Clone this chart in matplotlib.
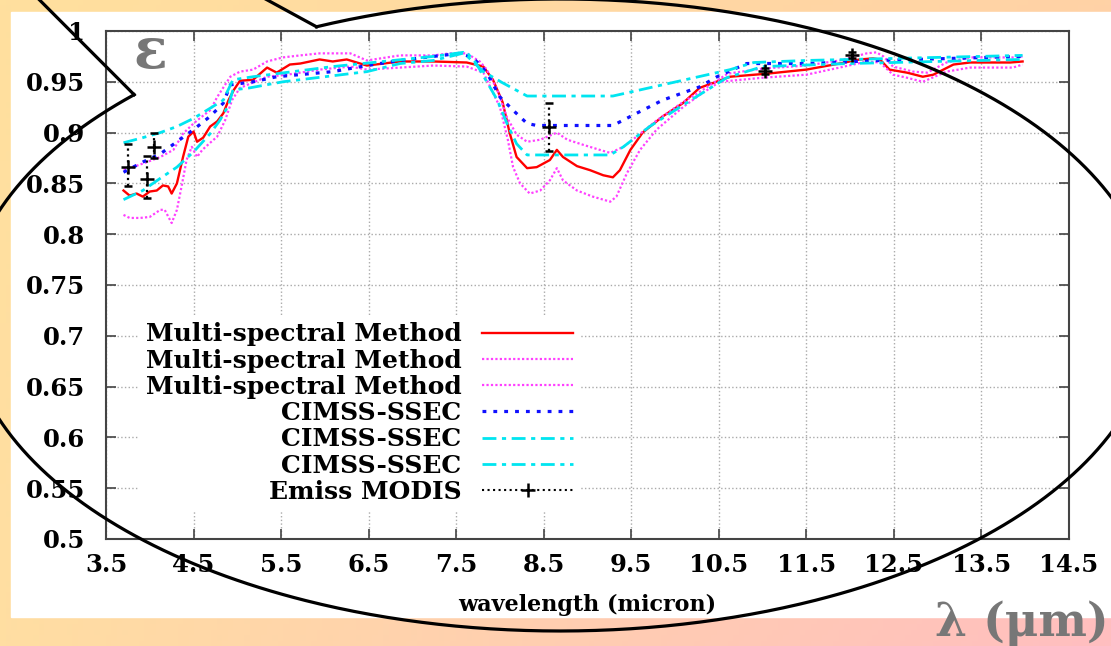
import numpy as np
import matplotlib
matplotlib.use("Agg")
import matplotlib.pyplot as plt
from matplotlib.lines import Line2D
from matplotlib.patches import Rectangle

plt.rcParams["font.family"] = ["DejaVu Serif"]
plt.rcParams["font.weight"] = "bold"
plt.rcParams["axes.labelweight"] = "bold"

# --- data ---
red_x = [3.70, 3.77, 3.85, 3.92, 4.00, 4.08, 4.15, 4.21, 4.25, 4.31, 4.38, 4.44, 4.50, 4.54, 4.61, 4.69, 4.77,
         4.84, 4.90, 4.96, 5.03, 5.18, 5.34, 5.45, 5.60, 5.72, 5.94, 6.09, 6.25, 6.48, 6.86, 7.24, 7.62, 7.81,
         7.92, 8.03, 8.11, 8.19, 8.31, 8.42, 8.57, 8.65, 8.72, 8.88, 9.03, 9.18, 9.29, 9.37, 9.49, 9.63, 9.86,
         10.09, 10.28, 10.63, 11.05, 11.50, 11.88, 12.11, 12.26, 12.34, 12.45, 12.65, 12.83, 12.95, 13.18,
         13.37, 13.83, 13.97]
red_y = [0.843, 0.838, 0.840, 0.837, 0.842, 0.843, 0.848, 0.847, 0.840, 0.850, 0.876, 0.896, 0.901, 0.891,
         0.895, 0.906, 0.911, 0.919, 0.932, 0.942, 0.951, 0.952, 0.964, 0.959, 0.967, 0.968, 0.972, 0.970,
         0.972, 0.966, 0.970, 0.970, 0.969, 0.965, 0.952, 0.930, 0.900, 0.876, 0.865, 0.866, 0.873, 0.883,
         0.876, 0.867, 0.863, 0.858, 0.856, 0.863, 0.883, 0.900, 0.916, 0.929, 0.944, 0.955, 0.958, 0.962,
         0.968, 0.972, 0.973, 0.972, 0.962, 0.959, 0.955, 0.957, 0.967, 0.969, 0.969, 0.970]

mu_x = [3.70, 3.77, 3.97, 4.12, 4.27, 4.38, 4.50, 4.57, 4.69, 4.77, 4.92, 5.03, 5.18, 5.34, 5.52, 5.72, 5.94,
        6.29, 6.48, 6.86, 7.24, 7.43, 7.62, 7.77, 7.85, 7.97, 8.08, 8.19, 8.31, 8.46, 8.65, 8.77, 8.95, 9.14,
        9.26, 9.41, 9.56, 9.79, 10.09, 10.28, 10.60, 11.00, 11.50, 11.88, 12.19, 12.30, 12.38, 12.49, 12.72,
        12.88, 13.10, 13.37, 13.86, 13.97]
mu_y = [0.864, 0.865, 0.871, 0.876, 0.883, 0.899, 0.909, 0.914, 0.922, 0.935, 0.955, 0.960, 0.962, 0.970,
        0.974, 0.976, 0.978, 0.978, 0.971, 0.976, 0.976, 0.978, 0.978, 0.970, 0.962, 0.942, 0.915, 0.898,
        0.891, 0.893, 0.900, 0.893, 0.888, 0.883, 0.880, 0.886, 0.896, 0.912, 0.930, 0.940, 0.958, 0.963,
        0.966, 0.971, 0.978, 0.979, 0.975, 0.965, 0.960, 0.959, 0.969, 0.974, 0.974, 0.975]

ml_x = [3.70, 3.77, 3.89, 4.00, 4.12, 4.17, 4.25, 4.31, 4.37, 4.42, 4.48, 4.54, 4.60, 4.69, 4.77, 4.86, 4.94,
        5.03, 5.34, 5.57, 5.94, 6.29, 6.48, 6.86, 7.24, 7.62, 7.81, 7.85, 8.00, 8.09, 8.15, 8.23, 8.34, 8.46,
        8.57, 8.65, 8.72, 8.88, 9.06, 9.26, 9.33, 9.45, 9.60, 9.79, 10.09, 10.28, 10.51, 11.00, 11.50, 11.88,
        12.19, 12.34, 12.49, 12.65, 12.83, 13.10, 13.37, 13.86, 13.97]
ml_y = [0.819, 0.816, 0.816, 0.817, 0.824, 0.824, 0.811, 0.824, 0.850, 0.873, 0.886, 0.876, 0.883, 0.890,
        0.896, 0.912, 0.932, 0.944, 0.955, 0.957, 0.962, 0.965, 0.962, 0.964, 0.966, 0.965, 0.959, 0.952,
        0.925, 0.893, 0.866, 0.850, 0.840, 0.843, 0.853, 0.865, 0.853, 0.843, 0.837, 0.832, 0.837, 0.860,
        0.883, 0.903, 0.925, 0.937, 0.950, 0.954, 0.957, 0.964, 0.970, 0.969, 0.957, 0.954, 0.950, 0.960,
        0.964, 0.964, 0.967]

b1_x = [3.70, 3.92, 4.12, 4.31, 4.50, 4.69, 4.84, 4.92, 5.18, 5.45, 6.09, 6.48, 6.86, 7.24, 7.54, 7.69, 7.85,
        8.00, 8.15, 8.31, 8.42, 9.29, 9.56, 9.86, 10.28, 10.48, 10.82, 11.50, 12.34, 13.97]
b1_y = [0.861, 0.871, 0.879, 0.891, 0.903, 0.916, 0.929, 0.947, 0.950, 0.955, 0.960, 0.966, 0.971, 0.975,
        0.978, 0.974, 0.959, 0.935, 0.922, 0.909, 0.907, 0.907, 0.919, 0.932, 0.945, 0.955, 0.968, 0.968,
        0.971, 0.975]

c1_x = [3.70, 3.92, 4.12, 4.31, 4.50, 4.69, 4.84, 4.95, 5.18, 6.09, 7.24, 7.58, 7.81, 8.03, 8.31, 9.29, 10.63,
        10.90, 11.50, 12.50, 13.97]
c1_y = [0.890, 0.895, 0.900, 0.906, 0.914, 0.924, 0.932, 0.952, 0.955, 0.965, 0.975, 0.979, 0.960, 0.949,
        0.936, 0.936, 0.962, 0.969, 0.971, 0.973, 0.976]

c2_x = [3.70, 3.92, 4.12, 4.31, 4.50, 4.69, 4.80, 4.90, 4.95, 5.14, 5.52, 6.48, 6.86, 7.24, 7.62, 7.73, 7.97,
        8.08, 8.19, 8.31, 9.26, 9.41, 9.71, 10.09, 10.59, 11.00, 12.00, 13.97]
c2_y = [0.834, 0.843, 0.855, 0.866, 0.881, 0.899, 0.912, 0.927, 0.942, 0.944, 0.950, 0.960, 0.968, 0.971,
        0.979, 0.968, 0.932, 0.909, 0.889, 0.878, 0.878, 0.886, 0.906, 0.927, 0.954, 0.965, 0.968, 0.972]

modis_x = [3.75, 3.97, 4.05, 8.56, 11.03, 12.02]
modis_y = [0.866, 0.854, 0.886, 0.906, 0.961, 0.976]
modis_lo = [0.847, 0.836, 0.875, 0.882, 0.958, 0.973]
modis_hi = [0.889, 0.877, 0.900, 0.929, 0.964, 0.979]

labels = ["Multi-spectral Method", "Multi-spectral Method", "Multi-spectral Method",
          "CIMSS-SSEC", "CIMSS-SSEC", "CIMSS-SSEC", "Emiss MODIS"]
xticks = np.arange(3.5, 14.51, 1.0)
yticks = np.arange(0.5, 1.001, 0.05)

W, H = 1111, 646
fig = plt.figure(figsize=(W / 100, H / 100), dpi=100)

# slide background: soft orange-to-pink gradient with a white panel
bg = fig.add_axes([0, 0, 1, 1], zorder=0)
bg.set_xlim(0, W)
bg.set_ylim(H, 0)
bg.axis("off")
gx, gy = np.meshgrid(np.linspace(0, 1, 200), np.linspace(0, 1, 120))
tl = np.array([255, 224, 158]) / 255
tr = np.array([255, 210, 166]) / 255
bl = np.array([255, 222, 162]) / 255
br = np.array([255, 190, 192]) / 255
grad = (tl * ((1 - gx) * (1 - gy))[..., None] + tr * (gx * (1 - gy))[..., None]
        + bl * ((1 - gx) * gy)[..., None] + br * (gx * gy)[..., None])
bg.imshow(grad, extent=(0, W, H, 0), aspect="auto")
bg.add_patch(Rectangle((11, 12), W - 11, 605, color="white"))

# the chart itself
ax = fig.add_axes([106 / W, (H - 539) / H, 963 / W, 508 / H], zorder=1)
ax.set_facecolor("white")
l_red, = ax.plot(red_x, red_y, color="#ff0000", lw=1.7)
l_mu, = ax.plot(mu_x, mu_y, color="#ff40ff", lw=1.6, ls=(0, (1, 1)))
l_ml, = ax.plot(ml_x, ml_y, color="#ff40ff", lw=1.6, ls=(0, (1, 1)))
l_b1, = ax.plot(b1_x, b1_y, color="#1010ff", lw=2.3, ls=(0, (1.2, 2.2)))
l_c1, = ax.plot(c1_x, c1_y, color="#00e5f0", lw=2.0, ls=(0, (5, 2, 1.5, 2)))
l_c2, = ax.plot(c2_x, c2_y, color="#00e5f0", lw=2.0, ls=(0, (5, 2, 1.5, 2)))

my = np.array(modis_y)
eb = ax.errorbar(modis_x, modis_y, yerr=[my - np.array(modis_lo), np.array(modis_hi) - my],
                 fmt="+", color="black", ms=10, mew=1.8, elinewidth=1.6, capsize=3, capthick=1.2)
eb[2][0].set_linestyle(":")

ax.set_xlim(3.5, 14.5)
ax.set_ylim(0.5, 1.0)
ax.set_xticks(xticks)
ax.set_xticklabels(["%.1f" % v for v in xticks])
ax.set_yticks(yticks)
ax.set_yticklabels(["%g" % round(v, 2) for v in yticks])
ax.tick_params(direction="in", length=7, width=1.2, color="#444444", top=True, right=True,
               labelsize=17.5)
ax.tick_params(axis="y", pad=15)
ax.tick_params(axis="x", pad=10)
for s in ax.spines.values():
    s.set_color("#444444")
    s.set_linewidth(1.5)
ax.grid(True, ls=":", color="#aaaaaa", lw=1)
ax.set_xlabel("wavelength (micron)", fontsize=16, fontweight="bold", labelpad=12)

modis_handle = (Line2D([], [], color="black", ls=":", lw=1.5),
                Line2D([], [], color="black", marker="+", ls="none", ms=10, mew=1.8))
ax.legend([l_red, l_mu, l_ml, l_b1, l_c1, l_c2, modis_handle], labels,
          loc="upper right", bbox_to_anchor=(0.493, 0.441), markerfirst=False,
          frameon=True, fancybox=False, edgecolor="none", facecolor="white", framealpha=1,
          fontsize=18, handlelength=3.64, handletextpad=0.84, labelspacing=0.09,
          borderpad=0.3, borderaxespad=0)

# callout ellipse drawn over everything, in pixel coordinates
ov = fig.add_axes([0, 0, 1, 1], zorder=3, facecolor="none")
ov.set_xlim(0, W)
ov.set_ylim(H, 0)
ov.axis("off")
t = np.radians(np.linspace(245.8, 224.2 + 360, 800))
ex = 560 + 594 * np.cos(t)
ey = 315 + 316 * np.sin(t)
ov.plot(ex, ey, color="black", lw=2.3)
tip = (-232, -272)
ov.plot([ex[0], tip[0]], [ey[0], tip[1]], color="black", lw=2.3)
ov.plot([ex[-1], tip[0]], [ey[-1], tip[1]], color="black", lw=2.3)

ov.text(133, 68, "ε", fontsize=40, color="#777777", ha="left", va="baseline")
ov.text(935, 636, "λ (μm)", fontsize=33, color="#777777", ha="left", va="baseline")

fig.savefig("out.png", dpi=100)
